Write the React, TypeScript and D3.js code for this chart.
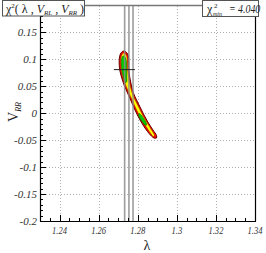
import { useRef, useEffect } from "react";
import * as d3 from "d3";

// axis ticks
const LAMBDA_TICKS = [1.24, 1.26, 1.28, 1.3, 1.32, 1.34];
const VRR_TICKS = [-0.2, -0.15, -0.1, -0.05, 0, 0.05, 0.1, 0.15];
const LAMBDA_DOMAIN = [1.23, 1.34];
const VRR_DOMAIN = [-0.2, 0.2];

// vertical reference lines in lambda
const LAMBDA_LINES = [1.2733, 1.2755, 1.2776];

// best fit point
const BEST_FIT = { lambda: 1.2732, vrr: 0.081, err: 0.0054 };
const CHI2_MIN = "4.040";

// contours, [lambda, V_RR]
const CONTOUR_OUTER: [number, number][] = [
  [1.2727, 0.1155], [1.2743, 0.1128], [1.2752, 0.1063], [1.2754, 0.0951],
  [1.2755, 0.0803], [1.276, 0.0654], [1.2768, 0.0506], [1.2778, 0.0376],
  [1.2794, 0.0246], [1.2812, 0.0116], [1.2832, -0.0032], [1.2855, -0.0181],
  [1.2878, -0.0311], [1.2896, -0.0413], [1.2896, -0.0459], [1.2883, -0.0459],
  [1.2865, -0.0404], [1.2837, -0.0274], [1.2809, -0.0107], [1.2786, 0.006],
  [1.2766, 0.0227], [1.2748, 0.0376], [1.2732, 0.0506], [1.272, 0.0636],
  [1.2709, 0.0784], [1.2705, 0.0933], [1.2707, 0.1044], [1.2714, 0.1118],
];
const CONTOUR_MID: [number, number][] = [
  [1.2727, 0.1118], [1.274, 0.1091], [1.2746, 0.1026], [1.2748, 0.0933],
  [1.2749, 0.0803], [1.2754, 0.0654], [1.2762, 0.0506], [1.2772, 0.0376],
  [1.2787, 0.0246], [1.2805, 0.0116], [1.2825, -0.0032], [1.2849, -0.0181],
  [1.2871, -0.0311], [1.2886, -0.0413], [1.2881, -0.0432], [1.2868, -0.0383],
  [1.2844, -0.0255], [1.2817, -0.0097], [1.2793, 0.007], [1.2772, 0.0237],
  [1.2754, 0.0385], [1.2739, 0.0515], [1.2726, 0.0645], [1.2716, 0.0784],
  [1.2713, 0.0933], [1.2714, 0.1035], [1.272, 0.1091],
];
const CONTOUR_INNER_A: [number, number][] = [
  [1.2726, 0.1063], [1.2737, 0.1035], [1.2742, 0.0951], [1.2743, 0.0803],
  [1.2744, 0.0673], [1.2743, 0.058], [1.2737, 0.0571], [1.273, 0.0636],
  [1.2722, 0.0747], [1.2717, 0.0877], [1.2717, 0.0989], [1.272, 0.1044],
];
const CONTOUR_INNER_B: [number, number][] = [
  [1.2807, -0.0005], [1.2817, -0.0032], [1.283, -0.0097], [1.2842, -0.0172],
  [1.2845, -0.0218], [1.2837, -0.0218], [1.2824, -0.0162], [1.2812, -0.0097],
  [1.2804, -0.0042],
];

const W = 266;
const H = 253;
const SERIF = "'Liberation Serif', 'DejaVu Serif', serif";

export default function App() {
  const svgRef = useRef<SVGSVGElement>(null);

  useEffect(() => {
    const svg = d3.select(svgRef.current);
    svg.selectAll("*").remove();
    svg.attr("width", W).attr("height", H).style("font-family", SERIF);

    const x = d3.scaleLinear().domain(LAMBDA_DOMAIN).range([40, 255]);
    const y = d3.scaleLinear().domain(VRR_DOMAIN).range([221, 5.5]);

    svg.append("rect").attr("width", W).attr("height", H).attr("fill", "#fff");

    // dotted grid
    const grid = svg.append("g").attr("stroke", "#b0b0b0").attr("stroke-dasharray", "1,2");
    LAMBDA_TICKS.filter((t) => t < 1.339).forEach((t) => {
      grid.append("line")
        .attr("x1", Math.round(x(t)) + 0.5).attr("x2", Math.round(x(t)) + 0.5)
        .attr("y1", 6).attr("y2", 221);
    });
    VRR_TICKS.filter((t) => t > -0.19).forEach((t) => {
      grid.append("line")
        .attr("x1", 40).attr("x2", 255)
        .attr("y1", Math.round(y(t)) + 0.5).attr("y2", Math.round(y(t)) + 0.5);
    });

    // contours
    const line = d3.line<[number, number]>()
      .x((d) => x(d[0]))
      .y((d) => y(d[1]))
      .curve(d3.curveCatmullRomClosed);

    svg.append("path").attr("d", line(CONTOUR_OUTER))
      .attr("fill", "#ff0000").attr("stroke", "#6a0000").attr("stroke-width", 1);
    svg.append("path").attr("d", line(CONTOUR_MID))
      .attr("fill", "#ffff00").attr("stroke", "#9a2000").attr("stroke-width", 0.6);
    [CONTOUR_INNER_A, CONTOUR_INNER_B].forEach((c) => {
      svg.append("path").attr("d", line(c))
        .attr("fill", "#00cc00").attr("stroke", "#1a6a00").attr("stroke-width", 0.7);
    });

    // vertical lambda lines
    LAMBDA_LINES.forEach((l) => {
      svg.append("line")
        .attr("x1", x(l)).attr("x2", x(l))
        .attr("y1", 5.5).attr("y2", 221)
        .attr("stroke", "#8c8c8c").attr("stroke-width", 1.6).attr("stroke-opacity", 0.85);
    });

    // best fit marker
    svg.append("line")
      .attr("x1", x(BEST_FIT.lambda - BEST_FIT.err)).attr("x2", x(BEST_FIT.lambda + BEST_FIT.err))
      .attr("y1", y(BEST_FIT.vrr)).attr("y2", y(BEST_FIT.vrr))
      .attr("stroke", "#222").attr("stroke-width", 1);

    // frame
    svg.append("line").attr("x1", 40).attr("x2", 255).attr("y1", 5.5).attr("y2", 5.5)
      .attr("stroke", "#777").attr("stroke-width", 1.5);
    svg.append("line").attr("x1", 255.5).attr("x2", 255.5).attr("y1", 5).attr("y2", 221.5)
      .attr("stroke", "#000").attr("stroke-width", 1.2);
    svg.append("line").attr("x1", 40.5).attr("x2", 40.5).attr("y1", 5).attr("y2", 221.5)
      .attr("stroke", "#000").attr("stroke-width", 1.2);
    svg.append("line").attr("x1", 40).attr("x2", 256).attr("y1", 221.5).attr("y2", 221.5)
      .attr("stroke", "#000").attr("stroke-width", 1.2);

    // x ticks
    const xTicks = svg.append("g").attr("stroke", "#000").attr("stroke-width", 1);
    d3.range(1.235, 1.3401, 0.005).forEach((t) => {
      const major = LAMBDA_TICKS.some((m) => Math.abs(m - t) < 1e-6);
      const px = Math.round(x(t)) + 0.5;
      xTicks.append("line").attr("x1", px).attr("x2", px)
        .attr("y1", 221).attr("y2", 221 - (major ? 6 : 3));
    });
    LAMBDA_TICKS.forEach((t) => {
      svg.append("text")
        .attr("transform", `translate(${x(t)},234) scale(0.78,1)`)
        .attr("text-anchor", "middle")
        .attr("font-size", 11).attr("font-style", "italic").attr("fill", "#333")
        .text(String(t));
    });

    // y ticks
    const yTicks = svg.append("g").attr("stroke", "#000").attr("stroke-width", 1);
    d3.range(-0.2, 0.2001, 0.01).forEach((t) => {
      const major = VRR_TICKS.some((m) => Math.abs(m - t) < 1e-6);
      const py = Math.round(y(t)) + 0.5;
      yTicks.append("line").attr("x1", 40).attr("x2", 40 + (major ? 6 : 3))
        .attr("y1", py).attr("y2", py);
    });
    VRR_TICKS.forEach((t) => {
      svg.append("text")
        .attr("x", 37).attr("y", y(t) + 4)
        .attr("text-anchor", "end")
        .attr("font-size", 11).attr("font-style", "italic").attr("fill", "#333")
        .text(String(t));
    });

    // axis titles
    svg.append("text")
      .attr("x", 147).attr("y", 250)
      .attr("text-anchor", "middle")
      .attr("font-size", 14).attr("fill", "#222")
      .text("λ");

    const yt = svg.append("text")
      .attr("transform", "translate(18,112) rotate(-90)")
      .attr("text-anchor", "middle")
      .attr("font-size", 14).attr("fill", "#222");
    yt.append("tspan").text("V");
    yt.append("tspan").attr("font-size", 8).attr("font-style", "italic").attr("dy", 3).text("RR");

    // left label box
    svg.append("rect").attr("x", 2.5).attr("y", 0.5).attr("width", 82).attr("height", 15.5)
      .attr("fill", "#fff").attr("stroke", "#555");
    const lt = svg.append("text").attr("x", 6).attr("y", 12.5)
      .attr("font-size", 12).attr("fill", "#222");
    lt.append("tspan").text("χ");
    lt.append("tspan").attr("font-size", 7).attr("dy", -5).text("2");
    lt.append("tspan").attr("dy", 5).text("( λ , ");
    lt.append("tspan").attr("font-style", "italic").text("V");
    lt.append("tspan").attr("font-size", 7).attr("font-style", "italic").attr("dy", 2).text("RL");
    lt.append("tspan").attr("dy", -2).text(" , ");
    lt.append("tspan").attr("font-style", "italic").text("V");
    lt.append("tspan").attr("font-size", 7).attr("font-style", "italic").attr("dy", 2).text("RR");
    lt.append("tspan").attr("dy", -2).text(" )");

    // right label box
    svg.append("rect").attr("x", 202.5).attr("y", 0.5).attr("width", 56).attr("height", 16)
      .attr("fill", "#fff").attr("stroke", "#555");
    svg.append("text").attr("x", 207).attr("y", 12.5).attr("font-size", 12).attr("fill", "#222").text("χ");
    svg.append("text").attr("x", 214).attr("y", 8).attr("font-size", 7).attr("fill", "#222").text("2");
    svg.append("text").attr("x", 213).attr("y", 15.5).attr("font-size", 6)
      .attr("font-style", "italic").attr("fill", "#222").text("min");
    svg.append("text")
      .attr("transform", "translate(229,12.5) scale(0.82,1)")
      .attr("font-size", 12).attr("font-style", "italic").attr("fill", "#222")
      .text(`= ${CHI2_MIN}`);
  }, []);

  return (
    <div style={{ position: "fixed", left: 0, top: 0 }}>
      <svg ref={svgRef} style={{ display: "block" }} />
    </div>
  );
}
